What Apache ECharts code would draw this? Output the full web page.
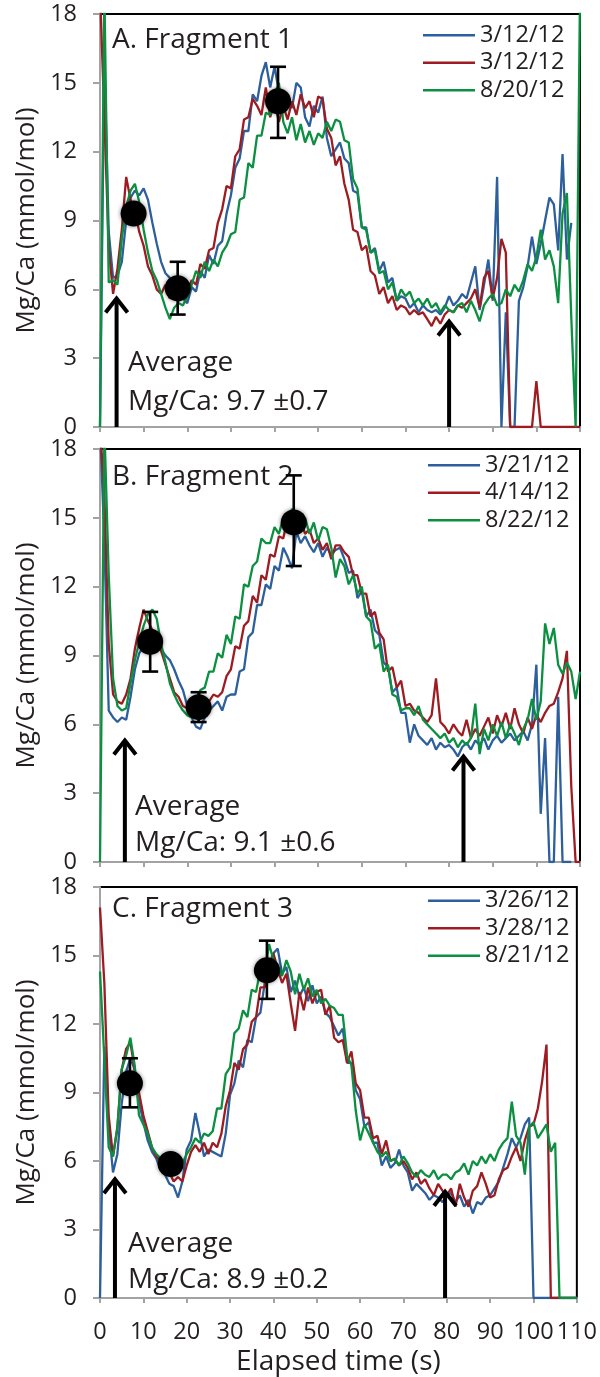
<!DOCTYPE html>
<html><head><meta charset="utf-8">
<script src="https://cdn.jsdelivr.net/npm/echarts@6/dist/echarts.min.js"></script>
<style>html,body{margin:0;padding:0;background:#fff}#c{width:600px;height:1377px}</style>
</head><body><div id="c"></div>
<script>
// ---------- DATA ----------
const time = [0,1,2,3,4,5,6,7,8,9,10,11,12,13,14,15,16,17,18,19,20,21,22,23,24,25,26,27,28,29,30,31,32,33,34,35,36,37,38,39,40,41,42,43,44,45,46,47,48,49,50,51,52,53,54,55,56,57,58,59,60,61,62,63,64,65,66,67,68,69,70,71,72,73,74,75,76,77,78,79,80,81,82,83,84,85,86,87,88,89,90,91,92,93,94,95,96,97,98,99,100,101,102,103,104,105,106,107,108,109,110];
const xTicks = [0,10,20,30,40,50,60,70,80,90,100,110];
const yTicks = [0,3,6,9,12,15,18];

// Panel A: Fragment 1
const aNames = ['3/12/12', '3/12/12 ', '8/20/12'];
const aBlue = [0,16,8.5,6.5,6.6,7.2,9.0,10.0,10.3,10.1,
  10.4,9.9,8.9,8.0,7.2,6.7,6.5,5.8,5.5,5.6,
  5.4,6.1,5.9,6.8,6.5,7.5,7.1,7.9,8.1,9.3,
  10.1,11.3,11.7,12.9,12.9,14.5,14.2,15.3,15.9,14.8,
  15.7,14.6,14.0,14.5,13.9,15.0,14.8,13.5,13.1,14.0,
  13.7,14.4,12.6,11.8,12.1,12.4,11.7,11.5,10.3,10.2,
  8.7,8.7,7.6,7.8,6.8,7.2,6.3,6.5,5.5,5.7,
  5.6,5.2,5.4,5.0,5.3,5.1,5.0,5.1,4.9,5.2,
  5.7,5.3,5.5,5.8,5.6,6.3,7.0,5.1,6.2,7.3,
  5.5,10.9,0,5.0,0,0,5.5,6.1,7.0,8.3,
  7.1,8.0,9.0,10.0,9.7,7.7,11.9,7.3,8.9,null,null];
const aRed = [19,13.5,7.8,5.8,6.9,8.6,10.9,9.9,9.4,8.5,
  7.9,7.0,6.6,6.0,5.8,6.2,5.6,5.8,5.5,5.7,
  5.9,6.4,6.2,7.1,6.9,7.7,7.8,8.9,9.5,10.5,
  10.4,11.8,12.1,13.4,13.5,14.3,14.0,13.6,14.8,13.5,
  14.1,13.3,14.0,13.4,14.2,13.6,14.5,13.9,14.2,13.5,
  14.4,14.3,13.0,12.6,11.4,11.8,10.6,9.9,8.6,8.5,
  7.7,7.9,6.8,6.6,5.8,6.1,5.4,5.7,5.1,5.3,
  5.2,4.9,5.1,4.9,5.0,4.7,4.4,4.8,4.5,4.9,
  5.1,5.0,5.3,5.2,5.4,5.6,6.0,5.2,6.5,6.8,
  5.6,6.5,8.2,7.6,0,0,0,0,0,0,
  2.0,0,0,0,0,0,0,0,0,0,0];
const aGreen = [0,19,6.3,6.4,6.2,8.2,9.6,10.3,10.6,9.8,
  8.6,7.6,6.8,6.4,5.8,5.2,4.7,5.2,5.4,5.3,
  5.7,6.2,6.8,6.5,7.2,6.8,7.3,7.0,7.6,7.9,
  8.4,8.5,9.9,10.0,11.5,11.3,12.7,12.7,13.7,13.6,
  14.5,15.0,13.3,12.8,13.5,12.5,13.2,12.4,12.9,12.3,
  12.8,12.6,13.3,12.9,13.4,13.3,12.5,12.4,10.8,10.4,
  8.7,8.6,7.6,7.7,6.7,6.8,6.0,6.3,5.5,6.0,
  5.7,5.9,5.4,5.6,5.3,5.6,5.2,5.4,5.0,5.3,
  5.1,5.0,5.3,5.4,5.0,5.5,5.1,4.6,5.3,5.6,
  5.8,5.3,5.4,6.0,5.7,6.2,5.9,6.4,7.1,6.8,
  7.4,8.6,7.3,7.7,7.0,5.4,9.3,10.2,4.8,0,19];
const aMeanT = [7.7, 17.8, 40.8];
const aMeanV = [9.3, 6.05, 14.2];
const aErrLo = [9.0, 4.9, 12.6];
const aErrHi = [9.6, 7.2, 15.7];
const aArrowT = [3.8, 80];
const aArrowV = [5.6, 4.6];

// Panel B: Fragment 2
const bNames = ['3/21/12', '4/14/12', '8/22/12'];
const bBlue = [19,14,6.6,6.3,6.1,6.3,6.2,7.2,8.4,9.1,
  9.4,9.6,9.8,9.6,9.3,9.0,8.8,8.4,7.9,7.5,
  6.8,6.3,5.9,5.8,6.3,6.6,6.8,7.0,6.6,7.2,
  7.3,7.3,8.3,8.4,9.8,10.0,11.2,11.2,12.1,11.9,
  12.9,12.7,13.7,13.3,12.8,14.4,13.9,14.2,13.8,13.5,
  13.9,13.3,13.7,13.4,13.6,13.7,13.2,12.6,12.7,11.5,
  11.8,10.7,11.0,10.1,9.9,8.7,8.5,7.4,7.6,6.5,
  6.5,5.2,6.0,5.5,5.3,5.1,5.4,4.9,5.2,5.0,
  5.1,4.9,4.6,5.0,5.2,4.9,5.3,5.1,5.4,4.9,
  5.3,5.5,5.2,5.4,5.6,5.3,5.5,5.7,5.3,6.0,
  8.6,2.1,5.4,0,0,7.2,0,0,0,null,null];
const bRed = [19,16,9.5,7.3,7.0,6.9,7.3,8.0,9.3,10.2,
  11.0,10.5,10.1,9.5,9.2,8.6,8.0,7.4,7.2,6.8,
  6.7,6.5,6.6,6.6,6.9,7.0,7.3,7.2,7.4,8.1,
  8.4,9.4,9.3,10.3,10.5,11.6,11.3,12.5,12.3,13.4,
  13.3,14.2,14.1,15.0,15.3,14.6,14.9,14.3,14.5,13.9,
  14.1,13.6,13.9,13.2,13.8,13.8,13.5,13.3,12.5,12.5,
  11.7,11.7,10.7,10.9,10.0,9.7,8.3,8.5,7.6,7.9,
  6.8,6.9,6.6,6.5,6.3,6.1,6.4,8.0,6.1,5.9,
  5.6,6.0,5.7,5.5,6.2,5.4,5.8,5.5,5.9,6.3,
  5.6,6.4,5.9,6.5,5.8,6.7,6.0,5.6,6.3,5.8,
  6.4,6.1,6.5,6.8,6.9,7.4,8.0,9.2,3.3,0,0];
const bGreen = [0,19,12.5,8.0,6.8,6.6,6.7,7.8,8.8,9.6,
  10.3,10.8,11.0,10.6,9.5,8.7,7.8,7.3,6.9,6.6,
  6.4,6.3,6.6,7.5,7.6,8.3,8.3,9.1,8.9,9.9,
  9.5,10.7,10.6,12.1,12.0,12.9,13.1,14.1,13.9,13.9,
  14.6,14.3,15.0,14.6,15.4,14.9,14.4,15.0,14.3,14.8,
  14.0,14.6,14.5,13.7,12.4,13.2,12.9,12.1,12.5,11.7,
  12.0,10.7,10.5,9.3,9.5,8.3,8.6,7.3,7.2,6.6,
  6.7,6.7,6.4,6.8,6.2,6.0,5.8,5.6,5.4,5.6,
  5.2,5.4,5.0,5.3,5.1,5.4,6.9,4.7,5.8,5.3,
  6.0,5.5,6.1,5.4,6.0,5.6,5.1,5.8,6.2,7.1,
  6.2,7.0,10.4,9.5,10.2,8.6,8.2,8.7,8.3,7.1,8.3];
const bMeanT = [11.5, 22.6, 44.4];
const bMeanV = [9.6, 6.75, 14.8];
const bErrLo = [8.3, 6.1, 12.9];
const bErrHi = [10.9, 7.4, 16.85];
const bArrowT = [5.7, 83.3];
const bArrowV = [5.3, 4.6];

// Panel C: Fragment 3
const cNames = ['3/26/12', '3/28/12', '8/21/12'];
const cBlue = [0,11.0,7.5,5.5,6.3,8.5,9.9,10.5,10.0,8.6,
  7.7,6.9,6.4,6.1,5.6,5.4,5.0,4.9,4.4,5.1,
  6.5,6.9,8.1,7.2,6.2,6.5,6.4,6.3,6.2,7.2,
  8.9,9.4,10.4,10.1,11.3,11.2,12.3,12.5,13.8,14.1,
  15.1,15.3,14.2,14.5,13.4,13.9,13.2,13.6,13.0,13.7,
  12.9,13.2,12.5,12.3,11.9,11.5,11.8,10.3,10.3,9.1,
  8.7,7.5,7.7,6.8,6.8,5.8,6.2,5.7,5.9,6.5,
  5.8,5.5,4.7,5.0,4.8,4.6,4.3,4.5,4.4,4.2,
  4.5,4.6,4.2,4.5,4.0,4.3,3.7,4.2,4.1,4.4,
  4.5,4.8,5.1,5.7,6.3,7.0,6.6,7.0,7.6,7.9,
  0,0,0,0,0,0,0,0,0,0,0];
const cRed = [17.1,13.8,8.0,6.2,7.4,10.0,10.9,11.2,10.0,9.0,
  8.0,7.3,6.6,6.2,6.0,5.8,5.5,5.1,5.3,5.1,
  5.8,6.4,6.7,6.4,6.8,6.3,6.8,6.6,7.2,8.4,
  9.1,10.3,10.0,10.9,11.1,12.1,12.3,13.6,13.6,14.6,
  15.1,14.4,13.8,14.2,12.9,11.7,13.4,12.6,13.6,12.9,
  13.4,13.5,12.4,12.8,11.4,11.2,11.3,10.3,10.8,9.4,
  9.1,7.9,7.9,7.0,7.1,6.3,6.9,6.0,6.1,5.8,
  6.0,5.7,5.2,5.5,5.0,5.2,4.8,4.5,5.0,4.7,
  4.5,4.8,4.0,5.0,4.4,4.0,4.7,4.9,5.5,5.0,
  4.4,4.5,5.2,5.6,5.7,6.2,6.6,6.0,6.9,7.5,
  7.6,8.3,9.5,11.1,0,0,0,0,0,0,0];
const cGreen = [14.3,10.5,6.6,6.2,7.5,10.0,10.6,11.4,10.2,8.0,
  7.6,7.2,6.6,6.3,6.1,5.9,5.6,5.8,5.6,5.9,
  6.3,6.6,7.0,6.8,7.2,7.1,7.3,8.3,8.3,9.8,
  10.1,11.6,11.8,12.6,12.3,13.5,13.4,14.4,14.2,15.5,
  14.8,14.6,14.1,14.8,14.3,13.3,14.2,13.5,14.0,13.2,
  13.5,12.9,13.1,12.8,12.7,12.4,12.4,10.6,10.2,8.2,
  6.9,7.6,7.2,6.8,6.4,6.2,6.4,6.0,6.1,5.8,
  6.2,5.9,5.5,5.3,5.6,5.4,5.3,5.6,5.2,5.4,
  5.4,5.2,5.5,5.6,5.9,5.4,6.0,5.8,6.2,5.9,
  6.3,6.0,6.5,6.8,7.0,8.6,7.1,6.8,5.4,7.5,
  7.7,7.0,7.3,7.6,6.4,6.8,0,0,0,0,0];
const cMeanT = [6.9, 16.3, 38.5];
const cMeanV = [9.4, 5.87, 14.35];
const cErrLo = [8.35, 5.6, 13.1];
const cErrHi = [10.5, 6.15, 15.65];
const cArrowT = [3.45, 79.6];
const cArrowV = [5.2, 4.65];

const panelLabels = ['A. Fragment 1', 'B. Fragment 2', 'C. Fragment 3'];
const avgLines = ['Mg/Ca: 9.7 \u00b10.7', 'Mg/Ca: 9.1 \u00b10.6', 'Mg/Ca: 8.9 \u00b10.2'];

// ---------- CHART ----------
[aBlue,aRed,aGreen,bBlue,bRed,bGreen,cBlue,cRed,cGreen].forEach((s,i)=>{
  if (s.length !== time.length) throw new Error('series ' + i + ' has length ' + s.length);
});

const FONT = '"Open Sans", sans-serif';
const TXT = '#231f20';
const AX = '#a3a3a3';
const COLORS = ['#2d5f9c', '#9d1c22', '#0b8f40'];

const panels = [
  {names:aNames, vals:[aBlue,aRed,aGreen], mt:aMeanT, mv:aMeanV, lo:aErrLo, hi:aErrHi, at:aArrowT, av:aArrowV},
  {names:bNames, vals:[bBlue,bRed,bGreen], mt:bMeanT, mv:bMeanV, lo:bErrLo, hi:bErrHi, at:bArrowT, av:bArrowV},
  {names:cNames, vals:[cBlue,cRed,cGreen], mt:cMeanT, mv:cMeanV, lo:cErrLo, hi:cErrHi, at:cArrowT, av:cArrowV}
];

const gridPos = [
  {left:100, top:14, width:480, height:413},
  {left:100, top:449, width:480, height:413},
  {left:100, top:887, width:480, height:411}
];
const legendPos = [
  {left:423, top:21.5},
  {left:428, top:451.5},
  {left:428, top:887}
];
const textPos = [
  {lab:[112, 50], avg:[128, 373], mg:[128, 412]},
  {lab:[112, 487], avg:[135, 817], mg:[135, 853]},
  {lab:[112, 919], avg:[128, 1254], mg:[128, 1290]}
];

const grid = gridPos.map(g => Object.assign({show:true, borderColor:'#000', borderWidth:2, backgroundColor:'transparent'}, g));

const xAxis = gridPos.map((g,i) => ({
  type:'value', gridIndex:i, min:xTicks[0], max:xTicks[xTicks.length-1], interval:10,
  axisLine:{show:true, lineStyle:{color:AX, width:2}},
  axisTick:{show:true, inside:false, length:5, lineStyle:{color:AX, width:2}},
  axisLabel:{show:i===2, color:TXT, fontFamily:FONT, fontSize:23.5, margin:22},
  splitLine:{show:false},
  name: i===2 ? 'Elapsed time (s)' : '',
  nameLocation:'middle', nameGap:50,
  nameTextStyle:{color:TXT, fontFamily:FONT, fontSize:28}
}));
const yAxis = gridPos.map((g,i) => ({
  type:'value', gridIndex:i, min:yTicks[0], max:yTicks[yTicks.length-1], interval:3,
  axisLine:{show:true, lineStyle:{color:AX, width:2}},
  axisTick:{show:true, inside:false, length:7, lineStyle:{color:AX, width:2}},
  axisLabel:{color:TXT, fontFamily:FONT, fontSize:23.5, margin:23},
  splitLine:{show:false},
  name:'Mg/Ca (mmol/mol)', nameLocation:'middle', nameGap:60, nameRotate:90,
  nameTextStyle:{color:TXT, fontFamily:FONT, fontSize:26}
}));

const series = [];
panels.forEach((p, pi) => {
  p.vals.forEach((vals, si) => {
    series.push({
      type:'line', name:p.names[si], xAxisIndex:pi, yAxisIndex:pi,
      data: time.map((t,k) => [t, vals[k]]),
      showSymbol:false, symbol:'none', connectNulls:false, clip:true,
      lineStyle:{color:COLORS[si], width:2.3}, itemStyle:{color:COLORS[si]},
      z:2, silent:true
    });
  });
  series.push({
    type:'custom', xAxisIndex:pi, yAxisIndex:pi, z:4, silent:true,
    data: p.mt.map((t,k) => [t, p.lo[k], p.hi[k]]),
    renderItem:(params, api) => {
      const x = api.value(0);
      const a = api.coord([x, api.value(1)]);
      const b = api.coord([x, api.value(2)]);
      const w = 8, st = {stroke:'#000', lineWidth:2.6};
      return {type:'group', children:[
        {type:'line', shape:{x1:a[0], y1:a[1], x2:b[0], y2:b[1]}, style:st},
        {type:'line', shape:{x1:a[0]-w, y1:a[1], x2:a[0]+w, y2:a[1]}, style:st},
        {type:'line', shape:{x1:b[0]-w, y1:b[1], x2:b[0]+w, y2:b[1]}, style:st}
      ]};
    }
  });
  series.push({
    type:'scatter', xAxisIndex:pi, yAxisIndex:pi, z:5, silent:true,
    data: p.mt.map((t,k) => [t, p.mv[k]]),
    symbol:'circle', symbolSize:26,
    itemStyle:{color:'#000', opacity:1, shadowBlur:4, shadowColor:'rgba(0,0,0,0.5)'}
  });
  series.push({
    type:'custom', xAxisIndex:pi, yAxisIndex:pi, z:6, silent:true,
    data: p.at.map((t,k) => [t, p.av[k]]),
    renderItem:(params, api) => {
      const t = api.value(0);
      const base = api.coord([t, 0]);
      const tip = api.coord([t, api.value(1)]);
      const st = {stroke:'#000', lineWidth:4, fill:null, lineJoin:'miter'};
      return {type:'group', children:[
        {type:'line', shape:{x1:base[0], y1:base[1], x2:tip[0], y2:tip[1]+2}, style:st},
        {type:'polyline', shape:{points:[[tip[0]-11, tip[1]+14],[tip[0], tip[1]],[tip[0]+11, tip[1]+14]]}, style:st}
      ]};
    }
  });
});

const legend = panels.map((p,i) => ({
  data:p.names, orient:'vertical', left:legendPos[i].left, top:legendPos[i].top,
  padding:0, itemGap:0, itemWidth:52, itemHeight:2.6, icon:'rect',
  selectedMode:false,
  textStyle:{color:TXT, fontFamily:FONT, fontSize:23.5, lineHeight:27.5}
}));

const graphic = [];
textPos.forEach((tp,i) => {
  const mk = (txt, pos) => ({type:'text', x:pos[0], y:pos[1]-10, silent:true,
    style:{text:txt, fill:TXT, font:'28px ' + FONT, align:'left', verticalAlign:'middle'}});
  graphic.push(mk(panelLabels[i], tp.lab));
  graphic.push(mk('Average', tp.avg));
  graphic.push(mk(avgLines[i], tp.mg));
});

const chart = echarts.init(document.getElementById('c'), null, {renderer:'canvas'});
chart.setOption({
  animation:false,
  backgroundColor:'#ffffff',
  grid, xAxis, yAxis, series, legend, graphic
});
</script>
</body></html>
